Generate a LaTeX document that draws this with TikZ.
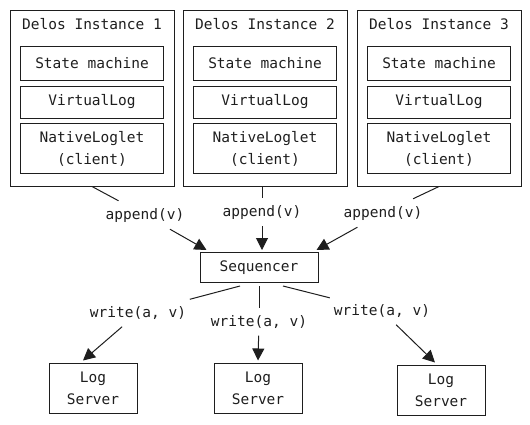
\documentclass[tikz,border=0pt]{standalone}
\usepackage{fontspec}
\setmonofont{DejaVu Sans Mono}
\usetikzlibrary{arrows.meta}
\definecolor{sketchink}{RGB}{30,30,30}

\begin{document}
\begin{tikzpicture}[x=1pt,y=-1pt,font=\ttfamily\fontsize{14.5}{22}\selectfont,
    box/.style={draw=sketchink,line width=1pt,rectangle,inner sep=0pt,align=center,text=sketchink},
    lbl/.style={inner xsep=4pt,inner ysep=7pt,text=sketchink},
    link/.style={draw=sketchink,line width=1pt},
    flow/.style={link,-{Triangle[length=12pt,width=12pt]}}]
    \useasboundingbox (0,0) rectangle (530,424);
    \foreach \i/\x in {1/92,2/265,3/439}{
      \node[box,minimum width=164pt,minimum height=176pt] (inst\i) at (\x,98) {};
      \node[lbl] (title\i) at (\x,24) {Delos Instance \i};
      \node[box,minimum width=143pt,minimum height=34pt] (sm\i) at (\x,63) {State machine};
      \node[box,minimum width=143pt,minimum height=32pt] (vl\i) at (\x,102) {VirtualLog};
      \node[box,minimum width=143pt,minimum height=50pt] (nl\i) at (\x,148.5) {NativeLoglet\\(client)};
    }
    \node[box,minimum width=118pt,minimum height=30pt] (seq) at (259,267.5) {Sequencer};
    \node[box,minimum width=88pt,minimum height=50pt] (log1) at (93,388) {Log\\Server};
    \node[box,minimum width=88pt,minimum height=50pt] (log2) at (258,388) {Log\\Server};
    \node[box,minimum width=88pt,minimum height=50pt] (log3) at (441,390) {Log\\Server};
    \node[lbl] (a1) at (145,215) {append(v)};
    \node[lbl] (a2) at (262,212) {append(v)};
    \node[lbl] (a3) at (383,213) {append(v)};
    \node[lbl] (w1) at (138,313) {write(a, v)};
    \node[lbl] (w2) at (259,322) {write(a, v)};
    \node[lbl] (w3) at (382,311) {write(a, v)};
    \draw[link] (inst1.south) -- (a1);
    \draw[flow] (a1) -- ([xshift=7pt,yshift=2pt]seq.north west);
    \draw[link] (a2 |- inst2.south) -- (a2);
    \draw[flow] (a2) -- ([yshift=2pt]a2 |- seq.north);
    \draw[link] (inst3.south) -- (a3);
    \draw[flow] (a3) -- ([xshift=-2pt,yshift=2pt]seq.north east);
    \draw[link] ([xshift=-19pt,yshift=-3pt]seq.south) -- (w1);
    \draw[flow] (w1) -- ([xshift=-10pt,yshift=2pt]log1.north);
    \draw[link] ([yshift=-3pt]seq.south) -- (w2);
    \draw[flow] (w2) -- ([yshift=2pt]log2.north);
    \draw[link] ([xshift=24pt,yshift=-3pt]seq.south) -- (w3);
    \draw[flow] (w3) -- ([xshift=-6pt,yshift=2pt]log3.north);
  \end{tikzpicture}
\end{document}
